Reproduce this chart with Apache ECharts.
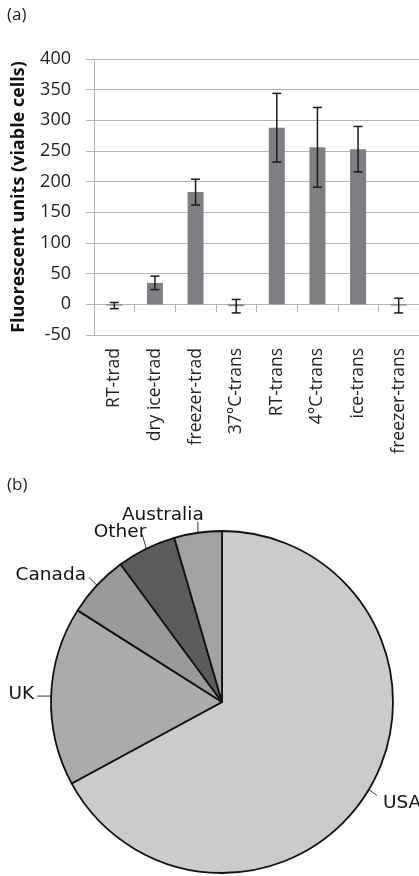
<!DOCTYPE html>
<html>
<head>
<meta charset="utf-8">
<script src="https://cdn.jsdelivr.net/npm/echarts@6/dist/echarts.min.js"></script>
<style>
  html, body { margin: 0; padding: 0; background: #fff; }
  #chart { width: 419px; height: 876px; }
</style>
</head>
<body>
<div id="chart"></div>
<script>
// (a) fluorescence of viable cells per storage/transport condition
const conditions = ['RT-trad', 'dry ice-trad', 'freezer-trad', '37°C-trans', 'RT-trans', '4°C-trans', 'ice-trans', 'freezer-trans'];
const meanUnits = [-2, 35, 183, -3, 288, 256, 253, -2];
const errUnits = [5, 11, 21, 11, 56, 65, 37, 12];
const yTicks = [-50, 0, 50, 100, 150, 200, 250, 300, 350, 400];

// (b) share of participants by country
const countries = ['USA', 'UK', 'Canada', 'Other', 'Australia'];
const countryShare = [67.1, 16.9, 5.9, 5.6, 4.5];
const sliceColors = ['#cbcbcb', '#ababab', '#9a9a9a', '#5c5c5c', '#a2a2a2'];

const errData = conditions.map((c, i) => [i, meanUnits[i] - errUnits[i], meanUnits[i] + errUnits[i]]);
const gridGray = '#b4b4b4';
const txtFont = '"Open Sans", "Liberation Sans", sans-serif';

// short leader lines for the pie labels: [line dx, line dy, text dx, text dy, align]
const leader = [
  [8, 6, 6, 8, 'left'],
  [-14, 0, -3, -2, 'right'],
  [-8, -8, -3, -2, 'right'],
  [-4, -14, 4, -2, 'right'],
  [0, -11, -76, -7, 'left']
];

const chart = echarts.init(document.getElementById('chart'), null, { renderer: 'canvas' });
chart.setOption({
  backgroundColor: '#fff',
  animation: false,
  graphic: [
    { type: 'text', left: 7, top: 7, style: { text: '(a)', font: '17px ' + txtFont, fill: '#222' } },
    { type: 'text', left: 7, top: 477, style: { text: '(b)', font: '17px ' + txtFont, fill: '#222' } }
  ],
  grid: { left: 94, right: -3, top: 59, bottom: 541, containLabel: false },
  xAxis: [
    {
      type: 'category', data: conditions,
      axisLine: { onZero: true, lineStyle: { color: gridGray, width: 1 } },
      axisTick: { show: true, interval: 0, length: 8, inside: false, lineStyle: { color: gridGray } },
      axisLabel: { show: false }
    },
    {
      type: 'category', data: conditions, position: 'bottom',
      axisLine: { show: false, onZero: false },
      axisTick: { show: false },
      axisLabel: { show: true, rotate: 90, margin: 13, interval: 0, color: '#222', fontSize: 17.5, fontFamily: txtFont }
    }
  ],
  yAxis: {
    type: 'value', min: yTicks[0], max: yTicks[yTicks.length - 1], interval: 50,
    name: 'Fluorescent units (viable cells)', nameLocation: 'middle', nameGap: 66,
    nameTextStyle: { fontSize: 18, fontWeight: 'bold', color: '#111', fontFamily: txtFont },
    axisLine: { show: true, lineStyle: { color: gridGray } },
    axisTick: { show: true, length: 8, lineStyle: { color: gridGray } },
    axisLabel: { color: '#222', fontSize: 18, margin: 23, fontFamily: txtFont },
    splitLine: { lineStyle: { color: gridGray, width: 1 } }
  },
  series: [
    {
      type: 'bar', data: meanUnits, barWidth: 16, xAxisIndex: 0,
      itemStyle: { color: '#7e7f83' }, silent: true, z: 2
    },
    {
      type: 'custom', xAxisIndex: 0, data: errData, z: 3, silent: true,
      renderItem: function (params, api) {
        const x = api.value(0);
        const lo = api.coord([x, api.value(1)]);
        const hi = api.coord([x, api.value(2)]);
        const cap = 4.5;
        const st = { stroke: '#1a1a1a', lineWidth: 1.5 };
        return {
          type: 'group',
          children: [
            { type: 'line', shape: { x1: hi[0], y1: hi[1], x2: lo[0], y2: lo[1] }, style: st },
            { type: 'line', shape: { x1: hi[0] - cap, y1: hi[1], x2: hi[0] + cap, y2: hi[1] }, style: st },
            { type: 'line', shape: { x1: lo[0] - cap, y1: lo[1], x2: lo[0] + cap, y2: lo[1] }, style: st }
          ]
        };
      }
    },
    {
      type: 'pie', center: [222, 702], radius: 171, startAngle: 90, clockwise: true,
      avoidLabelOverlap: false,
      data: countries.map((n, i) => ({ name: n, value: countryShare[i], itemStyle: { color: sliceColors[i] } })),
      itemStyle: { borderColor: '#111', borderWidth: 1.8 },
      label: { show: true, position: 'outside', color: '#111', fontSize: 18.5, fontFamily: '"DejaVu Sans", sans-serif', overflow: 'none' },
      labelLine: { show: true, length: 6, length2: 4, lineStyle: { color: '#333', width: 1 } },
      labelLayout: function (p) {
        const l = leader[p.dataIndex];
        const s = p.labelLinePoints[0];
        const e = [s[0] + l[0], s[1] + l[1]];
        return {
          x: e[0] + l[2], y: e[1] + l[3], align: l[4], verticalAlign: 'middle',
          hideOverlap: false, moveOverlap: false,
          labelLinePoints: [s, e, e]
        };
      },
      silent: true
    }
  ]
});
</script>
</body>
</html>
